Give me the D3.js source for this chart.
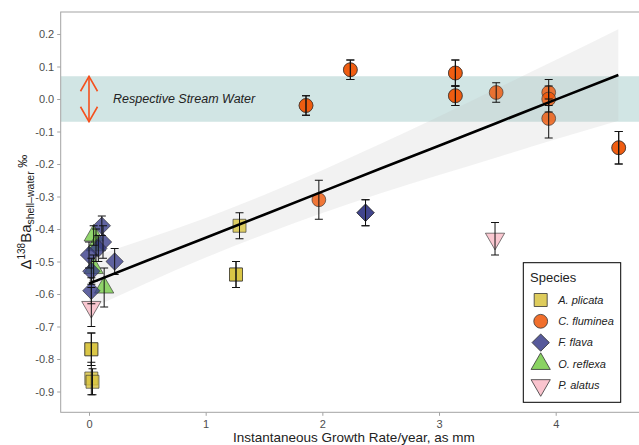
<!DOCTYPE html>
<html>
<head>
<meta charset="utf-8">
<script src="https://cdn.jsdelivr.net/npm/d3@7"></script>
<style>
  body { margin: 0; background: #fff; }
  svg { font-family: "Liberation Sans", Arial, Helvetica, sans-serif; }
</style>
</head>
<body>
<div id="chart"></div>
<script>
// set the dimensions of the page
const width = 639, height = 445;

// species and their look
const speciesNames = ["A. plicata", "C. fluminea", "F. flava", "O. reflexa", "P. alatus"];
const speciesFill = ["#d8c33f", "#ef5607", "#393d8a", "#76cb47", "#f9bac5"];
const speciesShape = ["square", "circle", "diamond", "triangle", "triangleDown"];

// points (species index, growth rate mm/yr, delta 138Ba, error)
const pointSpecies = [3, 3, 3, 3,
  4, 4,
  0, 0, 0, 0, 0, 0, 0,
  1, 1, 1, 1, 1, 1, 1, 1, 1, 1, 1, 1, 1, 1, 1,
  2, 2, 2, 2, 2, 2, 2, 2, 2];
const pointGrowth = [0.04, 0.06, 0.04, 0.13,
  0.02, 3.48,
  1.29, 1.26, 1.26, 0.02, 0.02, 0.02, 0.03,
  1.86, 1.86, 2.24, 2.24, 3.14, 3.14, 3.14, 3.14, 3.49, 3.94, 3.94, 3.94, 4.54, 4.54, 1.97,
  2.37, 2.37, 0.22, 0.11, 0.12, 0.08, 0.00, 0.02, 0.02];
const pointDelta = [-0.42, -0.45, -0.52, -0.58,
  -0.64, -0.43,
  -0.39, -0.54, -0.54, -0.77, -0.77, -0.86, -0.87,
  -0.02, -0.02, 0.09, 0.09, 0.08, 0.08, 0.01, 0.01, 0.02, 0.02, 0.00, -0.06, -0.15, -0.15, -0.31,
  -0.35, -0.35, -0.50, -0.39, -0.44, -0.46, -0.48, -0.53, -0.59];
const pointErr = [0.03, 0.05, 0.04, 0.06,
  0.06, 0.05,
  0.04, 0.04, 0.04, 0.05, 0.05, 0.05, 0.04,
  0.03, 0.03, 0.03, 0.03, 0.04, 0.04, 0.03, 0.03, 0.03, 0.04, 0.04, 0.06, 0.05, 0.05, 0.06,
  0.04, 0.04, 0.04, 0.03, 0.05, 0.04, 0.04, 0.04, 0.04];

// regression line and its confidence ribbon
const fitX  = [0.00, 0.5, 1.0, 1.5, 2.0, 2.5, 3.0, 3.5, 4.0, 4.537];
const fitY  = [-0.568, -0.497, -0.427, -0.356, -0.285, -0.214, -0.144, -0.073, -0.002, 0.074];
const fitLo = [-0.647, -0.565, -0.488, -0.417, -0.351, -0.290, -0.234, -0.179, -0.124, -0.067];
const fitHi = [-0.489, -0.429, -0.366, -0.295, -0.219, -0.138, -0.054, 0.033, 0.120, 0.215];

// stream water band
const streamLo = -0.07, streamHi = 0.07, streamArrowX = 0;
const streamLabel = "Respective Stream Water";

const xTicks = [0, 1, 2, 3, 4];
const yTicks = [0.2, 0.1, 0.0, -0.1, -0.2, -0.3, -0.4, -0.5, -0.6, -0.7, -0.8, -0.9];

const panel = {left: 60.7, top: 12, right: 647, bottom: 412.3};

const svg = d3.select("#chart").append("svg")
  .attr("width", width).attr("height", height);

const x = d3.scaleLinear().domain([0, 4]).range([89, 555.7]);
const y = d3.scaleLinear().domain([0, -0.9]).range([99, 391.5]);

// panel clip
svg.append("clipPath").attr("id", "clip")
  .append("rect")
  .attr("x", panel.left).attr("y", panel.top)
  .attr("width", panel.right - panel.left).attr("height", panel.bottom - panel.top);

const plot = svg.append("g").attr("clip-path", "url(#clip)");

// stream band
plot.append("rect")
  .attr("x", panel.left)
  .attr("width", panel.right - panel.left)
  .attr("y", y(streamHi))
  .attr("height", y(streamLo) - y(streamHi))
  .attr("fill", "#d1e5e4");

// arrow
const arrowCol = "#f4511e";
const ax = x(streamArrowX);
plot.append("line")
  .attr("x1", ax).attr("x2", ax)
  .attr("y1", y(streamHi)).attr("y2", y(streamLo))
  .attr("stroke", arrowCol).attr("stroke-width", 1.6);
plot.append("path")
  .attr("d", "M" + (ax - 8.5) + "," + (y(streamHi) + 15) + "L" + ax + "," + y(streamHi) + "L" + (ax + 8.5) + "," + (y(streamHi) + 15))
  .attr("fill", "none").attr("stroke", arrowCol).attr("stroke-width", 1.6);
plot.append("path")
  .attr("d", "M" + (ax - 8.5) + "," + (y(streamLo) - 15) + "L" + ax + "," + y(streamLo) + "L" + (ax + 8.5) + "," + (y(streamLo) - 15))
  .attr("fill", "none").attr("stroke", arrowCol).attr("stroke-width", 1.6);

plot.append("text")
  .attr("x", ax + 24).attr("y", y(0))
  .attr("dy", "0.35em")
  .attr("font-size", "12.5px")
  .attr("font-style", "italic")
  .attr("fill", "#222")
  .text(streamLabel);

// ribbon
const fitData = fitX.map(function(d, i) { return {x: d, y: fitY[i], lo: fitLo[i], hi: fitHi[i]}; });
plot.append("path")
  .datum(fitData)
  .attr("fill", "#bdbdbd")
  .attr("fill-opacity", 0.2)
  .attr("d", d3.area().curve(d3.curveMonotoneX)
    .x(function(d) { return x(d.x); })
    .y0(function(d) { return y(d.lo); })
    .y1(function(d) { return y(d.hi); }));

// points
const points = pointGrowth.map(function(d, i) {
  return {sp: pointSpecies[i], gx: d, dy: pointDelta[i], err: pointErr[i]};
});

const symbolFor = {
  square: d3.symbol().type(d3.symbolSquare).size(169)(),
  circle: d3.symbol().type(d3.symbolCircle).size(150)(),
  diamond: d3.symbol().type(d3.symbolSquare).size(150)(),
  triangle: d3.symbol().type(d3.symbolTriangle).size(160)(),
  triangleDown: d3.symbol().type(d3.symbolTriangle).size(160)()
};
const rotFor = {square: 0, circle: 0, diamond: 45, triangle: 0, triangleDown: 180};

plot.selectAll(".pt")
  .data(points)
  .join("path")
    .attr("class", "pt")
    .attr("d", function(d) { return symbolFor[speciesShape[d.sp]]; })
    .attr("transform", function(d) {
      return "translate(" + x(d.gx) + "," + y(d.dy) + ") rotate(" + rotFor[speciesShape[d.sp]] + ")";
    })
    .attr("fill", function(d) { return speciesFill[d.sp]; })
    .attr("fill-opacity", 0.8)
    .attr("stroke", "#333")
    .attr("stroke-opacity", 0.8)
    .attr("stroke-width", 0.8);

// error bars
const eb = plot.selectAll(".eb")
  .data(points)
  .join("g")
    .attr("class", "eb")
    .attr("stroke", "#111")
    .attr("stroke-width", 1);
eb.append("line")
  .attr("x1", function(d) { return x(d.gx); })
  .attr("x2", function(d) { return x(d.gx); })
  .attr("y1", function(d) { return y(d.dy + d.err); })
  .attr("y2", function(d) { return y(d.dy - d.err); });
eb.append("line")
  .attr("x1", function(d) { return x(d.gx) - 4; })
  .attr("x2", function(d) { return x(d.gx) + 4; })
  .attr("y1", function(d) { return y(d.dy + d.err); })
  .attr("y2", function(d) { return y(d.dy + d.err); });
eb.append("line")
  .attr("x1", function(d) { return x(d.gx) - 4; })
  .attr("x2", function(d) { return x(d.gx) + 4; })
  .attr("y1", function(d) { return y(d.dy - d.err); })
  .attr("y2", function(d) { return y(d.dy - d.err); });

// fit line
plot.append("path")
  .datum(fitData)
  .attr("fill", "none")
  .attr("stroke", "#000")
  .attr("stroke-width", 2.6)
  .attr("d", d3.line()
    .x(function(d) { return x(d.x); })
    .y(function(d) { return y(d.y); }));

// panel border
svg.append("rect")
  .attr("x", panel.left).attr("y", panel.top)
  .attr("width", panel.right - panel.left).attr("height", panel.bottom - panel.top)
  .attr("fill", "none").attr("stroke", "#a3a3a3").attr("stroke-width", 1);

// axes
const yAxis = d3.axisLeft(y).tickValues(yTicks).tickSize(3.5).tickPadding(3)
  .tickFormat(d3.format(".1f"));
const gy = svg.append("g")
  .attr("class", "axis y")
  .attr("transform", "translate(" + panel.left + ",0)")
  .call(yAxis);

const xAxis = d3.axisBottom(x).tickValues(xTicks).tickSize(3.5).tickPadding(4)
  .tickFormat(d3.format("d"));
const gx = svg.append("g")
  .attr("class", "axis x")
  .attr("transform", "translate(0," + panel.bottom + ")")
  .call(xAxis);

svg.selectAll(".axis .domain").remove();
svg.selectAll(".axis line").attr("stroke", "#a3a3a3");
svg.selectAll(".axis text")
  .attr("fill", "#4d4d4d")
  .attr("font-size", "11px")
  .attr("font-family", "Liberation Sans, Arial, sans-serif");
gy.selectAll("text").text(function(d) { return d3.format(".1f")(d).replace("\u2212", "-"); });

// axis titles
svg.append("text")
  .attr("x", (panel.left + panel.right) / 2)
  .attr("y", 442)
  .attr("text-anchor", "middle")
  .attr("font-size", "13.5px")
  .attr("fill", "#222")
  .text("Instantaneous Growth Rate/year, as mm");

const yt = svg.append("text")
  .attr("transform", "translate(31," + ((panel.top + panel.bottom) / 2) + ") rotate(-90)")
  .attr("text-anchor", "middle")
  .attr("font-size", "15px")
  .attr("fill", "#222");
yt.append("tspan").text("\u0394");
yt.append("tspan").attr("font-size", "10px").attr("dy", -6).text("138");
yt.append("tspan").attr("dy", 6).text("Ba");
yt.append("tspan").attr("font-size", "10.5px").attr("dy", 3).text("shell\u2013water");
yt.append("tspan").attr("font-size", "13px").attr("dy", -7).text(" \u2030");

// legend
const lg = svg.append("g");
lg.append("rect")
  .attr("x", 523.3).attr("y", 262.7)
  .attr("width", 97.4).attr("height", 139.6)
  .attr("fill", "#fff").attr("stroke", "#000").attr("stroke-width", 1);
lg.append("text")
  .attr("x", 530).attr("y", 282)
  .attr("font-size", "13px").attr("fill", "#222")
  .text("Species");

const legItem = lg.selectAll(".li")
  .data(speciesNames)
  .join("g")
    .attr("class", "li")
    .attr("transform", function(d, i) { return "translate(540.7," + (300 + i * 21.3) + ")"; });
legItem.append("path")
  .attr("d", function(d, i) { return symbolFor[speciesShape[i]]; })
  .attr("transform", function(d, i) { return "rotate(" + rotFor[speciesShape[i]] + ")"; })
  .attr("fill", function(d, i) { return speciesFill[i]; })
  .attr("fill-opacity", 0.85)
  .attr("stroke", "#333")
  .attr("stroke-width", 0.8);
legItem.append("text")
  .attr("x", 17.5).attr("dy", "0.35em")
  .attr("font-size", "11px")
  .attr("font-style", "italic")
  .attr("fill", "#222")
  .text(function(d) { return d; });
</script>
</body>
</html>
